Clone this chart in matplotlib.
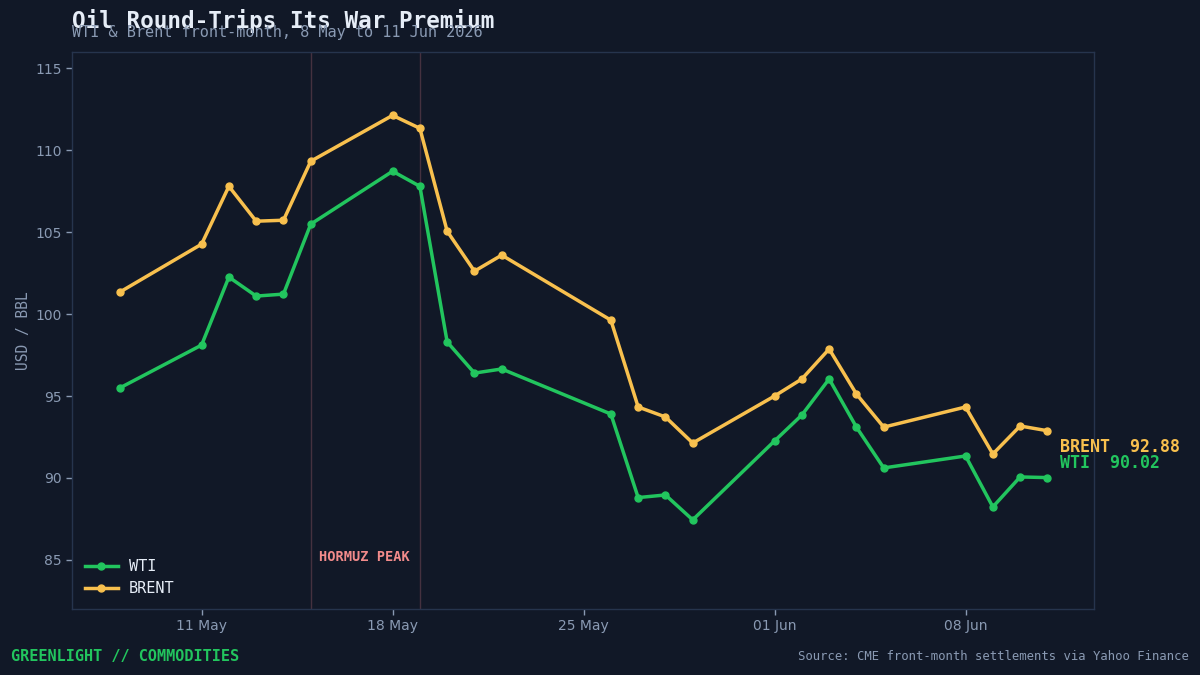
import matplotlib
matplotlib.use("Agg")
import matplotlib.pyplot as plt
import matplotlib.dates as mdates
import pandas as pd

dates = ["2026-05-08", "2026-05-11", "2026-05-12", "2026-05-13", "2026-05-14", "2026-05-15",
         "2026-05-18", "2026-05-19", "2026-05-20", "2026-05-21", "2026-05-22",
         "2026-05-26", "2026-05-27", "2026-05-28", "2026-05-29",
         "2026-06-01", "2026-06-02", "2026-06-03", "2026-06-04", "2026-06-05",
         "2026-06-08", "2026-06-09", "2026-06-10", "2026-06-11"]
wti = [95.49, 98.11, 102.26, 101.10, 101.22, 105.49,
       108.72, 107.80, 98.30, 96.40, 96.65,
       93.90, 88.80, 88.96, 87.44,
       92.26, 93.84, 96.04, 93.10, 90.61,
       91.34, 88.23, 90.06, 90.02]
brent = [101.34, 104.27, 107.80, 105.67, 105.73, 109.33,
         112.13, 111.34, 105.06, 102.62, 103.60,
         99.63, 94.33, 93.72, 92.13,
         95.00, 96.04, 97.87, 95.12, 93.10,
         94.33, 91.46, 93.17, 92.88]
event_dates = ["2026-05-15", "2026-05-19"]
event_label = "HORMUZ PEAK"
tick_dates = ["2026-05-11", "2026-05-18", "2026-05-25", "2026-06-01", "2026-06-08"]

BG = "#111827"
GRID = "#26344d"
TXT = "#8a9ab3"
GREEN = "#22c55e"
GOLD = "#f8c04e"
MONO = "DejaVu Sans Mono"

x = pd.to_datetime(dates)

fig = plt.figure(figsize=(12, 6.75), dpi=100, facecolor=BG)
ax = fig.add_axes([0.06, 0.0978, 0.8517, 0.8252], facecolor=BG)

for d in event_dates:
    ax.axvline(pd.Timestamp(d), color="#45313f", lw=1.0, zorder=1)

ax.plot(x, wti, color=GREEN, lw=2.5, marker="o", ms=5, label="WTI", zorder=3)
ax.plot(x, brent, color=GOLD, lw=2.5, marker="o", ms=5, label="BRENT", zorder=3)

ax.set_ylim(82, 116)
ax.set_xlim(pd.Timestamp("2026-05-06 06:00"), pd.Timestamp("2026-06-12 17:00"))
ax.set_yticks([85, 90, 95, 100, 105, 110, 115])
ax.set_xticks(pd.to_datetime(tick_dates))
ax.xaxis.set_major_formatter(mdates.DateFormatter("%d %b"))
ax.tick_params(colors=TXT, labelsize=10, length=4, width=1)
for lbl in ax.get_xticklabels() + ax.get_yticklabels():
    lbl.set_color(TXT)
for s in ax.spines.values():
    s.set_color(GRID)
    s.set_linewidth(1.0)
ax.set_ylabel("USD / BBL", color=TXT, fontsize=10.5, family=MONO, labelpad=3)

ax.text(pd.Timestamp(event_dates[0]) + pd.Timedelta(hours=7), 85.15, event_label,
        color="#f28b8b", fontsize=9.8, fontweight="bold", family=MONO,
        va="center", ha="left")

ax.text(0.967, brent[-1] - 0.98, f"BRENT  {brent[-1]:.2f}", transform=ax.get_yaxis_transform(),
        color=GOLD, fontsize=12, fontweight="bold", family=MONO, va="center", ha="left")
ax.text(0.967, wti[-1] + 0.9, f"WTI  {wti[-1]:.2f}", transform=ax.get_yaxis_transform(),
        color=GREEN, fontsize=12, fontweight="bold", family=MONO, va="center", ha="left")

leg = ax.legend(loc="lower left", frameon=False, prop={"family": MONO, "size": 11},
                handlelength=2.15, handletextpad=0.7, borderaxespad=0.45, labelspacing=0.45)
for t in leg.get_texts():
    t.set_color("#e6edf7")

fig.text(0.06, 1 - 21 / 675, "Oil Round-Trips Its War Premium", color="#e6edf7", fontsize=16.3,
         fontweight="bold", family=MONO, va="center", ha="left")
fig.text(0.06, 1 - 32 / 675, "WTI & Brent front-month, 8 May to 11 Jun 2026", color=TXT, fontsize=11,
         family=MONO, va="center", ha="left")
fig.text(11 / 1200, 1 - 657 / 675, "GREENLIGHT // COMMODITIES", color=GREEN, fontsize=11,
         fontweight="bold", family=MONO, va="center", ha="left")
fig.text(1189 / 1200, 1 - 657 / 675, "Source: CME front-month settlements via Yahoo Finance",
         color=TXT, fontsize=8.85, family=MONO, va="center", ha="right")

fig.savefig("out.png", dpi=100, facecolor=BG)
